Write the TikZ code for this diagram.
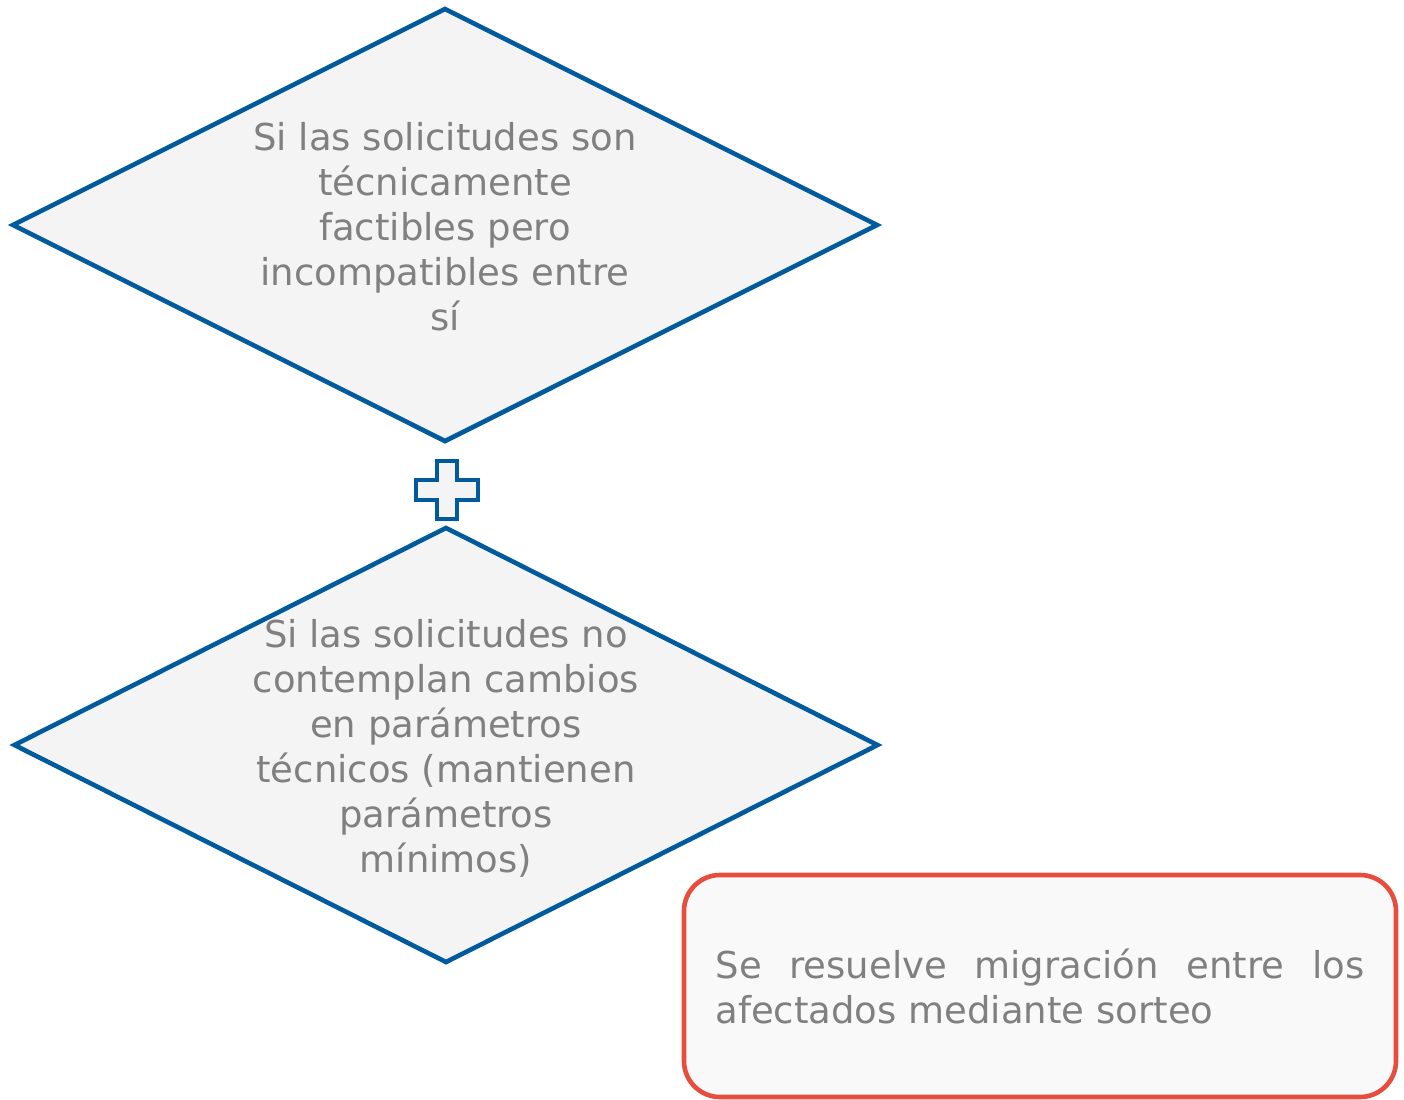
\documentclass[tikz,border=0pt]{standalone}
\usepackage{fontspec}
\setmainfont{DejaVu Sans}
\usetikzlibrary{shapes.geometric}
\definecolor{flowblue}{RGB}{0,90,158}
\definecolor{alertred}{RGB}{232,76,61}
\definecolor{shapegray}{RGB}{244,244,244}
\definecolor{boxgray}{RGB}{249,249,249}
\definecolor{textgray}{RGB}{128,128,128}
\tikzset{
        decision/.style={diamond, aspect=2, draw=flowblue, fill=shapegray, line width=2.3pt, inner sep=0pt},
        decisiontext/.style={align=center, text=textgray, inner sep=0pt, font=\fontsize{18.5}{22.5}\selectfont},
        plusmark/.style={draw=flowblue, fill=shapegray, line width=2.3pt, line join=miter},
        outcome/.style={draw=alertred, fill=boxgray, line width=2.3pt, rounded corners=18pt, inner sep=0pt,
                minimum width=356pt, minimum height=111pt, text width=324.5pt, align=justify,
                text=textgray, font=\fontsize{18.5}{22.5}\selectfont}
}

\begin{document}
\begin{tikzpicture}[x=0.5pt, y=-0.5pt]
        \useasboundingbox (0,0) rectangle (1404,1099);

        \node (ask1) [decision, minimum width=433pt, minimum height=217pt] at (445,225) {};
        \node (ask1text) at ([yshift=-1pt]ask1.center) [decisiontext] {Si las solicitudes son\\técnicamente\\factibles pero\\incompatibles entre\\sí};

        \coordinate (joint) at (447,490);
        \draw[plusmark] ([shift={(-10,-29)}]joint) -- ++(20,0) -- ++(0,19) -- ++(21,0) -- ++(0,20) -- ++(-21,0)
                -- ++(0,19) -- ++(-20,0) -- ++(0,-19) -- ++(-21,0) -- ++(0,-20) -- ++(21,0) -- cycle;

        \node (ask2) [decision, minimum width=432.5pt, minimum height=218pt] at (446,745) {};
        \node (ask2text) at ([yshift=-1.5pt]ask2.center) [decisiontext] {Si las solicitudes no\\contemplan cambios\\en parámetros\\técnicos (mantienen\\parámetros\\mínimos)};

        \node (verdict) [outcome] at (1040,986) {Se resuelve migración entre los\linebreak afectados mediante sorteo};
\end{tikzpicture}
\end{document}
